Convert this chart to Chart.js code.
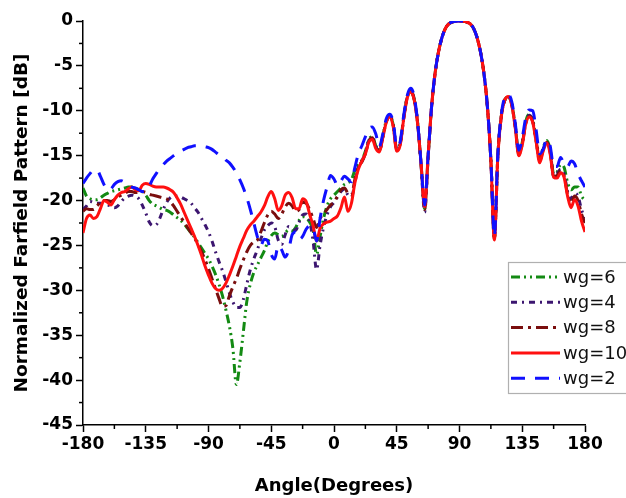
<!DOCTYPE html>
<html>
<head>
<meta charset="utf-8">
<script src="https://cdn.jsdelivr.net/npm/chart.js@4.4.1/dist/chart.umd.min.js"></script>
<style>
  html, body { margin: 0; padding: 0; background: #fff; }
  #wrap { width: 626px; height: 498px; }
</style>
</head>
<body>
<div id="wrap"><canvas id="c" width="626" height="498"></canvas></div>
<script>
// ---------- DATA ----------
const angles = [
  -180, -177.5, -175, -172.5, -170, -167.5, -165, -162.5, -160, -157.5,
  -155, -152.5, -150, -147.5, -145, -142.5, -140, -137.5, -135, -132.5,
  -130, -127.5, -125, -122.5, -120, -117.5, -115, -112.5, -110, -107.5,
  -105, -102.5, -100, -97.5, -95, -92.5, -90, -87.5, -85, -82.5,
  -80, -77.5, -75, -72.5, -70, -67.5, -65, -62.5, -60, -57.5,
  -55, -52.5, -50, -47.5, -45, -42.5, -40, -37.5, -35, -32.5,
  -30, -27.5, -25, -22.5, -20, -17.5, -15, -12.5, -10, -7.5,
  -5, -2.5, 0, 2.5, 5, 7.5, 10, 12.5, 15, 17.5,
  20, 22.5, 25, 27.5, 30, 32.5, 35, 37.5, 40, 42.5,
  45, 47.5, 50, 52.5, 55, 57.5, 60, 62.5, 65, 67.5,
  70, 72.5, 75, 77.5, 80, 82.5, 85, 87.5, 90, 92.5,
  95, 97.5, 100, 102.5, 105, 107.5, 110, 112.5, 115, 117.5,
  120, 122.5, 125, 127.5, 130, 132.5, 135, 137.5, 140, 142.5,
  145, 147.5, 150, 152.5, 155, 157.5, 160, 162.5, 165, 167.5,
  170, 172.5, 175, 177.5, 180
];

const wg6 = [
  -18.6, -19.5, -19.8, -19.9, -19.9, -19.7, -19.4, -19.2, -19.0, -18.9,
  -18.8, -18.7, -18.6, -18.5, -18.5, -18.6, -18.8, -19.0, -19.4, -20.0,
  -20.4, -20.6, -20.8, -21.0, -21.1, -21.3, -21.6, -21.9, -22.2, -22.6,
  -23.1, -23.6, -24.1, -24.7, -25.3, -25.9, -26.5, -27.3, -28.2, -29.3,
  -30.6, -32.2, -34.0, -36.5, -40.5, -38.0, -34.6, -31.2, -29.3, -28.0,
  -27.2, -26.4, -25.6, -24.6, -23.9, -23.6, -23.8, -24.0, -23.6, -23.3,
  -23.4, -23.0, -22.2, -21.8, -21.9, -22.4, -23.3, -26.0, -24.0, -22.0,
  -20.6, -19.8, -19.4, -19.0, -18.6, -18.2, -18.0, -17.7, -16.6, -15.9,
  -15.5, -14.5, -13.2, -12.9, -13.9, -14.4, -12.8, -11.1, -10.6, -11.6,
  -14.3, -13.6, -10.8, -8.5, -7.8, -8.7, -11.4, -16.1, -20.9, -15.1,
  -9.5, -5.8, -3.4, -1.8, -0.8, -0.3, -0.1, -0.02, 0, -0.02,
  -0.1, -0.3, -0.8, -1.8, -3.4, -5.8, -9.5, -15.5, -24.2, -15.0,
  -10.6, -8.8, -8.4, -9.3, -11.7, -14.7, -13.5, -11.2, -10.4, -11.0,
  -13.1, -15.3, -14.1, -13.3, -14.3, -17.0, -16.8, -16.0, -16.3, -18.0,
  -18.8, -18.5, -18.5, -19.5, -20.0
];

const wg4 = [
  -21.0, -20.6, -20.1, -20.2, -20.3, -20.3, -20.4, -20.5, -20.6, -20.8,
  -20.6, -20.1, -19.7, -19.5, -19.4, -19.5, -19.8, -20.5, -21.4, -22.4,
  -22.8, -22.7, -22.0, -21.0, -20.2, -19.7, -19.5, -19.5, -19.6, -19.8,
  -20.0, -20.3, -20.8, -21.3, -22.0, -22.7, -23.5, -24.5, -25.7, -26.8,
  -27.8, -29.0, -30.3, -31.3, -31.9, -31.9, -31.0, -29.3, -27.7, -26.5,
  -25.5, -24.3, -23.3, -22.8, -22.5, -22.9, -24.4, -24.9, -23.8, -22.9,
  -23.1, -23.3, -22.4, -21.6, -21.5, -22.3, -24.5, -27.7, -25.0, -23.0,
  -21.6, -20.7, -20.2, -19.6, -19.0, -18.7, -19.4, -19.6, -18.0, -16.2,
  -15.6, -14.6, -13.3, -13.0, -14.0, -14.5, -12.9, -11.2, -10.6, -11.6,
  -14.3, -13.6, -10.8, -8.5, -7.8, -8.7, -11.4, -16.2, -21.3, -15.2,
  -9.5, -5.8, -3.4, -1.8, -0.8, -0.3, -0.1, -0.02, 0, -0.02,
  -0.1, -0.3, -0.8, -1.8, -3.4, -5.8, -9.5, -15.5, -24.2, -15.0,
  -10.6, -8.8, -8.4, -9.3, -11.8, -14.8, -13.6, -11.3, -10.5, -11.1,
  -13.3, -15.5, -14.2, -13.4, -14.5, -17.2, -17.0, -16.5, -17.0, -19.0,
  -19.8, -19.2, -19.5, -21.0, -22.0
];

const wg8 = [
  -21.2, -20.9, -21.0, -21.0, -20.6, -20.2, -20.0, -20.0, -20.1, -19.9,
  -19.6, -19.4, -19.2, -19.0, -19.0, -19.1, -19.1, -19.0, -19.1, -19.3,
  -19.4, -19.5, -19.6, -19.7, -19.8, -20.1, -20.6, -21.2, -21.8, -22.4,
  -23.0, -23.6, -24.2, -24.9, -25.7, -26.6, -27.6, -28.7, -29.8, -30.9,
  -31.8, -31.7, -30.6, -29.6, -28.7, -27.6, -26.6, -25.7, -25.0, -24.6,
  -24.4, -23.5, -22.5, -21.6, -21.2, -21.5, -22.0, -21.5, -20.7, -20.3,
  -20.6, -21.2, -21.0, -20.2, -20.3, -21.0, -22.0, -23.0, -22.0, -21.5,
  -21.0, -20.5, -20.2, -19.5, -18.8, -18.6, -19.2, -19.4, -17.6, -16.2,
  -15.7, -14.8, -13.4, -13.0, -14.0, -14.5, -12.9, -11.2, -10.6, -11.6,
  -14.4, -13.7, -10.8, -8.5, -7.8, -8.7, -11.4, -16.1, -21.0, -15.1,
  -9.5, -5.8, -3.4, -1.8, -0.8, -0.3, -0.1, -0.02, 0, -0.02,
  -0.1, -0.3, -0.8, -1.8, -3.4, -5.8, -9.5, -15.5, -24.3, -15.0,
  -10.6, -8.8, -8.4, -9.3, -11.8, -14.9, -13.7, -11.4, -10.6, -11.2,
  -13.4, -15.6, -14.3, -13.5, -14.6, -17.3, -17.2, -16.7, -17.2, -19.3,
  -20.3, -19.5, -20.0, -21.5, -22.5
];

const wg10 = [
  -23.6, -22.0, -21.6, -22.0, -21.8, -20.9, -20.0, -20.2, -20.5, -19.9,
  -19.4, -19.1, -19.0, -18.7, -18.5, -18.8, -18.9, -18.3, -18.1, -18.2,
  -18.4, -18.5, -18.5, -18.5, -18.6, -18.8, -19.1, -19.7, -20.4, -21.3,
  -22.2, -23.1, -24.0, -25.0, -26.1, -27.3, -28.3, -29.2, -29.8, -30.0,
  -29.8, -29.2, -28.3, -27.3, -26.2, -25.1, -24.2, -23.3, -22.7, -22.3,
  -21.8, -21.3, -20.6, -19.6, -19.0, -19.8, -21.1, -20.6, -19.4, -19.1,
  -19.7, -20.9, -20.9, -19.8, -20.1, -21.5, -22.8, -24.5, -23.1, -22.6,
  -22.4, -22.3, -22.0, -21.7, -20.8, -19.6, -21.2, -20.3, -18.0, -16.5,
  -15.6, -14.8, -13.5, -13.2, -14.2, -14.6, -13.0, -11.3, -10.7, -11.8,
  -14.5, -13.8, -10.9, -8.6, -7.9, -8.8, -11.5, -16.0, -20.7, -15.0,
  -9.5, -5.8, -3.4, -1.8, -0.8, -0.3, -0.1, -0.02, 0, -0.02,
  -0.1, -0.3, -0.8, -1.8, -3.4, -5.8, -9.5, -15.5, -24.4, -15.0,
  -10.6, -8.8, -8.4, -9.4, -11.9, -15.0, -13.8, -11.5, -10.7, -11.3,
  -13.5, -15.8, -14.5, -13.6, -14.8, -17.4, -17.5, -16.9, -17.4, -19.5,
  -20.8, -19.9, -20.6, -22.3, -23.5
];

const wg2 = [
  -18.1, -17.5, -17.0, -16.6, -16.6, -17.3, -18.2, -18.8, -18.7, -18.2,
  -17.9, -17.8, -18.0, -18.3, -18.5, -18.6, -18.8, -19.0, -18.9, -18.4,
  -17.6, -17.0, -16.4, -16.0, -15.6, -15.3, -15.0, -14.7, -14.5, -14.3,
  -14.1, -14.0, -13.9, -13.9, -13.9, -14.0, -14.1, -14.3, -14.6, -14.9,
  -15.1, -15.5, -15.8, -16.3, -16.9, -17.7, -18.6, -19.7, -21.0, -22.5,
  -24.0, -25.0, -24.3, -24.5, -26.0, -26.5, -25.0, -25.5, -26.3, -25.5,
  -23.8, -23.5, -24.3, -24.0, -23.2, -22.8, -23.0, -24.5, -22.0, -20.0,
  -18.5, -17.2, -17.6, -18.3, -17.8, -17.3, -17.6, -17.9, -16.3, -14.8,
  -13.9, -12.9, -12.0, -11.8, -12.6, -14.0, -12.6, -10.9, -10.4, -11.3,
  -14.0, -13.4, -10.5, -8.3, -7.5, -8.4, -11.3, -16.0, -20.5, -15.0,
  -9.5, -5.8, -3.4, -1.8, -0.8, -0.3, -0.1, -0.02, 0, -0.02,
  -0.1, -0.3, -0.8, -1.8, -3.4, -5.8, -9.5, -15.5, -24.0, -14.8,
  -10.4, -8.5, -8.2, -9.0, -11.4, -14.4, -13.0, -10.8, -9.9, -10.0,
  -12.2, -14.8, -14.3, -13.2, -13.9, -16.2, -16.2, -15.2, -16.0, -16.2,
  -15.6, -15.9, -17.0, -17.8, -18.5
];

const seriesNames = ['wg=6', 'wg=4', 'wg=8', 'wg=10', 'wg=2'];
const xTicks = [-180, -135, -90, -45, 0, 45, 90, 135, 180];
const xTickLabels = ['-180', '-135', '-90', '-45', '0', '45', '90', '135', '180'];
const yTicks = [0, -5, -10, -15, -20, -25, -30, -35, -40, -45];
const yTickLabels = ['0', '-5', '-10', '-15', '-20', '-25', '-30', '-35', '-40', '-45'];

// ---------- STYLES ----------
const styles = [
  { color: '#138a13', dash: [9, 4, 2, 4, 2, 4], order: 4 },
  { color: '#3c1670', dash: [6, 5, 2, 5], order: 3 },
  { color: '#7a0e0e', dash: [12, 5, 3, 5], order: 2 },
  { color: '#ff1010', dash: [], order: 1 },
  { color: '#1010ff', dash: [14, 10], order: 0 }
];
const seriesValues = [wg6, wg4, wg8, wg10, wg2];

const datasets = seriesNames.map((name, i) => ({
  label: name,
  data: angles.map((a, j) => ({ x: a, y: seriesValues[i][j] })),
  borderColor: styles[i].color,
  backgroundColor: styles[i].color,
  borderDash: styles[i].dash,
  borderWidth: 3,
  pointRadius: 0,
  fill: false,
  cubicInterpolationMode: 'monotone',
  order: styles[i].order
}));

const tickFont = { family: 'DejaVu Sans', weight: 'bold', size: 17 };
const titleFont = { family: 'DejaVu Sans', weight: 'bold', size: 18 };

const minorTicks = {
  id: 'minorTicks',
  afterDraw(chart) {
    const { ctx, scales: { x, y }, chartArea } = chart;
    ctx.save();
    ctx.strokeStyle = '#000';
    ctx.lineWidth = 1.5;
    for (let i = 0; i < xTicks.length - 1; i++) {
      const v = (xTicks[i] + xTicks[i + 1]) / 2;
      const px = x.getPixelForValue(v);
      ctx.beginPath();
      ctx.moveTo(px, chartArea.bottom);
      ctx.lineTo(px, chartArea.bottom + 4);
      ctx.stroke();
    }
    for (let i = 0; i < yTicks.length - 1; i++) {
      const v = (yTicks[i] + yTicks[i + 1]) / 2;
      const py = y.getPixelForValue(v);
      ctx.beginPath();
      ctx.moveTo(chartArea.left, py);
      ctx.lineTo(chartArea.left - 4, py);
      ctx.stroke();
    }
    ctx.restore();
  }
};

const boxLegend = {
  id: 'boxLegend',
  afterDraw(chart) {
    const { ctx } = chart;
    const left = 508, top = 262, right = 640, bottom = 393;
    ctx.save();
    ctx.fillStyle = '#fff';
    ctx.fillRect(left, top, right - left, bottom - top);
    ctx.strokeStyle = '#b0b0b0';
    ctx.lineWidth = 1.2;
    ctx.strokeRect(left + 0.5, top + 0.5, right - left, bottom - top);
    ctx.font = '18px "DejaVu Sans"';
    ctx.textBaseline = 'middle';
    ctx.fillStyle = '#111';
    chart.data.datasets.forEach((ds, i) => {
      const yy = 277 + i * 25.3;
      ctx.beginPath();
      ctx.strokeStyle = ds.borderColor;
      ctx.lineWidth = 3;
      ctx.setLineDash(ds.borderDash || []);
      ctx.moveTo(511, yy);
      ctx.lineTo(560, yy);
      ctx.stroke();
      ctx.setLineDash([]);
      ctx.fillText(ds.label, 563, yy + 1);
    });
    ctx.restore();
  }
};

new Chart(document.getElementById('c'), {
  type: 'line',
  data: { datasets },
  options: {
    responsive: false,
    animation: false,
    devicePixelRatio: 1,
    layout: { padding: { top: 21, right: 41, left: 0, bottom: 0 } },
    plugins: { legend: { display: false }, tooltip: { enabled: false } },
    scales: {
      x: {
        type: 'linear',
        min: -180, max: 180,
        afterBuildTicks: (s) => { s.ticks = xTicks.map(v => ({ value: v })); },
        afterFit: (s) => { s.height = 73; },
        ticks: {
          callback: (v) => xTickLabels[xTicks.indexOf(v)],
          autoSkip: false, maxRotation: 0, minRotation: 0,
          font: tickFont, color: '#000', padding: 2
        },
        grid: { drawOnChartArea: false, drawTicks: true, tickLength: 7, tickWidth: 1.5, tickColor: '#000' },
        border: { display: true, color: '#000', width: 1.5 },
        title: { display: true, text: 'Angle(Degrees)', font: titleFont, color: '#000', padding: { top: 0, bottom: 1 } }
      },
      y: {
        type: 'linear',
        min: -45, max: 0,
        afterBuildTicks: (s) => { s.ticks = yTicks.map(v => ({ value: v })); },
        afterFit: (s) => { s.width = 83; },
        ticks: {
          callback: (v) => yTickLabels[yTicks.indexOf(v)],
          autoSkip: false,
          font: tickFont, color: '#000', padding: 3
        },
        grid: { drawOnChartArea: false, drawTicks: true, tickLength: 7, tickWidth: 1.5, tickColor: '#000' },
        border: { display: true, color: '#000', width: 1.5 },
        title: { display: true, text: 'Normalized Farfield Pattern [dB]', font: { family: 'DejaVu Sans', weight: 'bold', size: 18.5 }, color: '#000', padding: { top: 11, bottom: 0 } }
      }
    }
  },
  plugins: [minorTicks, boxLegend]
});
</script>
</body>
</html>
